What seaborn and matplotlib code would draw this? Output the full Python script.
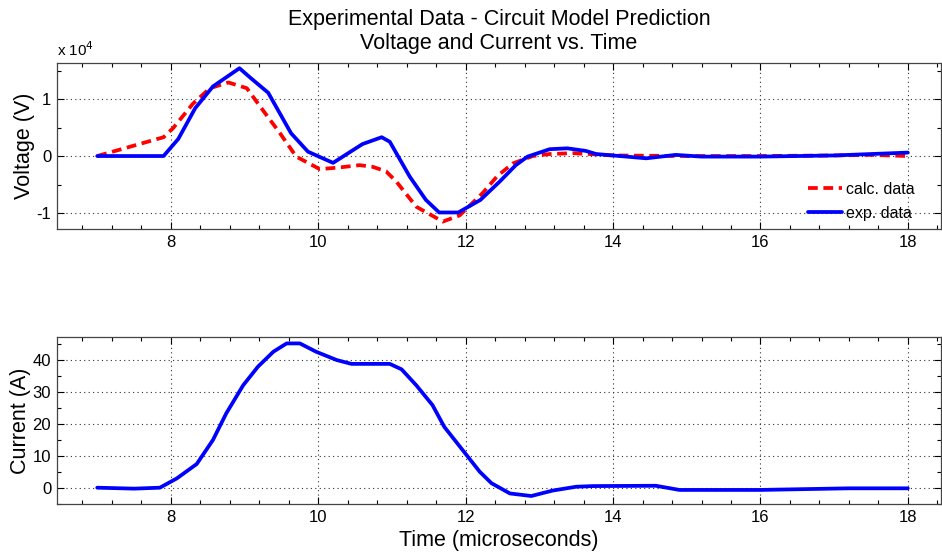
import numpy as np
import pandas as pd
import matplotlib
matplotlib.use("Agg")
import matplotlib.pyplot as plt
import seaborn as sns
from matplotlib.ticker import FuncFormatter, MultipleLocator, FixedLocator

# ---- data ----
t_exp_v = [7.0, 7.9, 8.1, 8.33, 8.57, 8.93, 9.09, 9.32, 9.63, 9.86, 10.2, 10.6, 10.86, 10.97,
           11.24, 11.46, 11.64, 11.9, 12.2, 12.46, 12.68, 12.84, 13.14, 13.38, 13.63, 13.77,
           14.0, 14.45, 14.85, 15.2, 16.0, 17.0, 17.4, 18.0]
v_exp = [0, 0, 3000, 8400, 12200, 15400, 13600, 11100, 4000, 760, -1200, 2100, 3300, 2500,
         -3600, -7700, -9900, -9900, -7700, -4500, -1600, -100, 1200, 1350, 900, 350,
         100, -400, 200, -100, -100, 100, 300, 600]

t_calc_v = [7.0, 7.9, 8.03, 8.3, 8.53, 8.78, 9.03, 9.21, 9.48, 9.70, 10.02, 10.29, 10.56, 10.74,
            10.92, 11.06, 11.33, 11.69, 11.92, 12.23, 12.43, 12.64, 12.91, 13.14, 13.45, 13.68,
            14.0, 15.0, 16.0, 17.0, 17.5, 18.0]
v_calc = [0, 3300, 4900, 9200, 11900, 12900, 11900, 8700, 4000, -100, -2300, -2000, -1600, -1900,
          -2700, -4500, -8900, -11500, -10400, -6500, -3500, -1300, 0, 350, 500, 350,
          100, 0, 0, 100, 200, 0]

t_cur = [7.0, 7.5, 7.85, 8.08, 8.35, 8.57, 8.75, 8.98, 9.18, 9.39, 9.57, 9.75, 9.97, 10.25,
         10.45, 10.97, 11.13, 11.33, 11.55, 11.71, 11.94, 12.19, 12.35, 12.6, 12.89, 13.18,
         13.5, 13.72, 14.58, 14.9, 16.0, 17.2, 18.0]
i_cur = [0, -0.3, 0, 2.9, 7.4, 14.9, 23.2, 32.0, 37.8, 42.5, 45.1, 45.1, 42.5, 39.9,
         38.7, 38.7, 37.0, 32.0, 25.8, 19.0, 12.3, 5.0, 1.4, -1.8, -2.6, -0.9,
         0.3, 0.5, 0.6, -0.7, -0.7, -0.2, -0.2]

x_ticks = [8, 10, 12, 14, 16, 18]
v_ticks = [-10000, 0, 10000]
i_ticks = [0, 10, 20, 30, 40]

title = "Experimental Data - Circuit Model Prediction\nVoltage and Current vs. Time"

df_exp = pd.DataFrame({"t": t_exp_v, "v": v_exp})
df_calc = pd.DataFrame({"t": t_calc_v, "v": v_calc})
df_cur = pd.DataFrame({"t": t_cur, "i": i_cur})

sns.set_style("ticks")
plt.rcParams["font.family"] = ["Liberation Sans", "DejaVu Sans"]
plt.rcParams["xtick.direction"] = "in"
plt.rcParams["ytick.direction"] = "in"
plt.rcParams["text.color"] = "black"
plt.rcParams["axes.labelcolor"] = "black"

fig = plt.figure(figsize=(9.42, 5.54), dpi=100)
W, H = 942.0, 554.0
ax1 = fig.add_axes([56.7 / W, 1 - 229 / H, 884.3 / W, (229 - 62.7) / H])
ax2 = fig.add_axes([56.7 / W, 1 - 504 / H, 884.3 / W, (504 - 336.7) / H])

lw = 2.7
sns.lineplot(data=df_calc, x="t", y="v", ax=ax1, color="#ff0000", linewidth=lw,
             label="calc. data", sort=False, estimator=None)
ax1.lines[-1].set_dashes((2.6, 1.5))
sns.lineplot(data=df_exp, x="t", y="v", ax=ax1, color="#0000ff", linewidth=lw,
             label="exp. data", sort=False, estimator=None)
sns.lineplot(data=df_cur, x="t", y="i", ax=ax2, color="#0000ff", linewidth=lw,
             sort=False, estimator=None)

for ax in (ax1, ax2):
    ax.set_xlim(6.45, 18.45)
    ax.xaxis.set_major_locator(FixedLocator(x_ticks))
    ax.xaxis.set_minor_locator(FixedLocator(list(np.arange(6.8, 18.45, 0.4))))
    ax.grid(True, which="major", linestyle=(0, (1, 3)), color="#333333", linewidth=0.8)
    ax.tick_params(which="both", top=True, right=True, direction="in", labelsize=12,
                   colors="black")
    ax.tick_params(which="major", length=5, width=0.8, pad=4)
    ax.tick_params(which="minor", length=3, width=0.8)
    for s in ax.spines.values():
        s.set_visible(True)
        s.set_color("#444444")
        s.set_linewidth(0.9)
    ax.set_ylabel("")
    ax.set_xlabel("")

ax1.set_ylim(-12800, 16370)
ax1.yaxis.set_major_locator(FixedLocator(v_ticks))
ax1.yaxis.set_minor_locator(MultipleLocator(5000))
ax1.yaxis.set_major_formatter(FuncFormatter(lambda v, p: f"{v/1e4:g}"))
ax1.set_ylabel("Voltage (V)", fontsize=15.5, labelpad=1)
ax1.text(0.0, 1.02, r"x 10$^4$", transform=ax1.transAxes, fontsize=11, ha="left", va="bottom")

ax2.set_ylim(-5.1, 47.2)
ax2.yaxis.set_major_locator(FixedLocator(i_ticks))
ax2.yaxis.set_minor_locator(MultipleLocator(5))
ax2.set_ylabel("Current (A)", fontsize=15.5, labelpad=1)
ax2.set_xlabel("Time (microseconds)", fontsize=15.5, labelpad=4)

ax1.set_title(title, fontsize=15.5, pad=10, linespacing=1.15)

leg = ax1.legend(loc="upper left", bbox_to_anchor=((808 - 56.7) / 884.3, (229 - 182) / 166.3),
                 frameon=False, fontsize=11.5, borderpad=0, borderaxespad=0,
                 handlelength=2.1, handletextpad=0.25, labelspacing=0.55)

fig.savefig("out.png", dpi=100)
